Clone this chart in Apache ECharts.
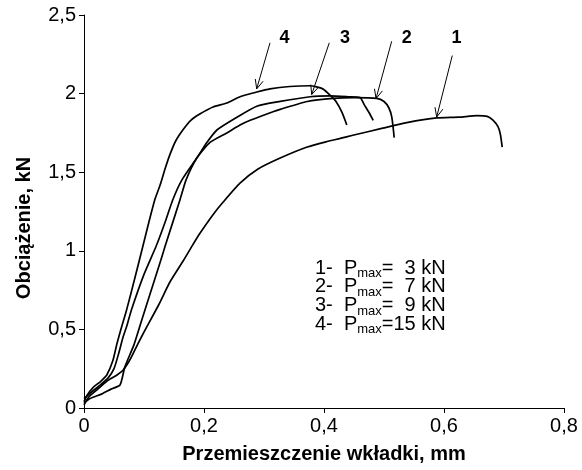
<!DOCTYPE html>
<html><head><meta charset="utf-8">
<script src="https://cdn.jsdelivr.net/npm/echarts@6/dist/echarts.min.js"></script>
<style>html,body{margin:0;padding:0;background:#fff}#c{width:582px;height:470px}</style>
</head><body><div id="c"></div>
<script>
// ---- data ----
const xTickLabels = ['0', '0,2', '0,4', '0,6', '0,8'];
const yTickLabels = ['0', '0,5', '1', '1,5', '2', '2,5'];

// curve 1: Pmax = 3 kN
const c1x = [0, 0.008, 0.02, 0.038, 0.055, 0.065, 0.077, 0.09, 0.101, 0.125, 0.143, 0.166, 0.18, 0.193, 0.215, 0.232, 0.26, 0.29, 0.327, 0.372, 0.405, 0.427, 0.448, 0.498, 0.538, 0.588, 0.625, 0.655, 0.672, 0.682, 0.69, 0.694, 0.697];
const c1y = [0.02, 0.07, 0.11, 0.17, 0.21, 0.24, 0.31, 0.41, 0.49, 0.66, 0.80, 0.94, 1.03, 1.11, 1.23, 1.31, 1.43, 1.52, 1.59, 1.66, 1.695, 1.715, 1.735, 1.78, 1.815, 1.845, 1.85, 1.86, 1.855, 1.83, 1.79, 1.74, 1.66];
// curve 2: Pmax = 7 kN
const c2x = [0, 0.01, 0.03, 0.045, 0.06, 0.068, 0.083, 0.093, 0.107, 0.128, 0.135, 0.16, 0.17, 0.188, 0.21, 0.238, 0.26, 0.277, 0.315, 0.327, 0.372, 0.415, 0.45, 0.488, 0.5, 0.508, 0.513, 0.517];
const c2y = [0.03, 0.06, 0.09, 0.12, 0.146, 0.26, 0.40, 0.52, 0.688, 0.94, 1.027, 1.325, 1.45, 1.59, 1.69, 1.75, 1.80, 1.83, 1.885, 1.90, 1.95, 1.97, 1.975, 1.97, 1.95, 1.91, 1.85, 1.72];
// curve 3: Pmax = 9 kN
const c3x = [0, 0.012, 0.025, 0.04, 0.05, 0.058, 0.065, 0.072, 0.079, 0.1, 0.12, 0.135, 0.148, 0.163, 0.188, 0.205, 0.222, 0.255, 0.288, 0.327, 0.377, 0.41, 0.44, 0.46, 0.467, 0.475, 0.482];
const c3y = [0.06, 0.10, 0.14, 0.19, 0.25, 0.35, 0.45, 0.53, 0.624, 0.85, 1.027, 1.18, 1.325, 1.45, 1.59, 1.69, 1.77, 1.85, 1.92, 1.95, 1.98, 1.985, 1.98, 1.975, 1.93, 1.88, 1.83];
// curve 4: Pmax = 15 kN
const c4x = [0, 0.005, 0.015, 0.028, 0.038, 0.048, 0.055, 0.063, 0.071, 0.085, 0.098, 0.108, 0.118, 0.127, 0.135, 0.143, 0.153, 0.165, 0.178, 0.193, 0.215, 0.238, 0.26, 0.288, 0.31, 0.343, 0.377, 0.398, 0.41, 0.42, 0.43, 0.438];
const c4y = [0.04, 0.08, 0.13, 0.17, 0.21, 0.30, 0.41, 0.52, 0.624, 0.83, 1.027, 1.18, 1.325, 1.42, 1.52, 1.61, 1.70, 1.77, 1.83, 1.87, 1.915, 1.94, 1.98, 2.01, 2.03, 2.045, 2.05, 2.03, 1.99, 1.95, 1.88, 1.80];

// annotation arrows (data coordinates): label, label point, arrow start, arrow tip
const arrowNames = ['1', '2', '3', '4'];
const arrowLabelAt = [[0.621, 2.355], [0.538, 2.355], [0.435, 2.355], [0.334, 2.355]];
const arrowFrom = [[0.6138, 2.242], [0.5128, 2.333], [0.4088, 2.323], [0.310, 2.323]];
const arrowTo = [[0.5878, 1.851], [0.4867, 1.968], [0.3795, 1.994], [0.2878, 2.030]];

// legend rows
const legendNums = ['1-', '2-', '3-', '4-'];
const legendVals = ['  3 kN', '  7 kN', '  9 kN', '15 kN'];

// ---- chart ----
const FONT = 'Liberation Sans, Arial, sans-serif';
const zip = (xs, ys) => xs.map((x, i) => [x, ys[i]]);
const chart = echarts.init(document.getElementById('c'), null, {renderer: 'canvas'});
const lineSeries = [[c1x, c1y], [c2x, c2y], [c3x, c3y], [c4x, c4y]].map((c, i) => ({
  type: 'line', name: 'c' + (i + 1), data: zip(c[0], c[1]), showSymbol: false,
  smooth: 0.2,
  lineStyle: {color: '#000', width: 1.7}, itemStyle: {color: '#000'}, z: 3
}));

chart.setOption({
  animation: false,
  backgroundColor: '#fff',
  grid: {left: 84, right: 18, top: 15, bottom: 62, containLabel: false},
  xAxis: {
    type: 'value', min: 0, max: 0.8, interval: 0.2,
    name: 'Przemieszczenie wkładki, mm', nameLocation: 'middle', nameGap: 36,
    nameTextStyle: {fontSize: 20, fontWeight: 'bold', color: '#000', fontFamily: FONT},
    axisLine: {lineStyle: {color: '#000', width: 1}},
    axisTick: {show: true, inside: false, length: 5, lineStyle: {color: '#000'}},
    axisLabel: {fontSize: 20, color: '#000', fontFamily: FONT, margin: 8,
      formatter: v => xTickLabels[Math.round(v / 0.2)]},
    splitLine: {show: false}
  },
  yAxis: {
    type: 'value', min: 0, max: 2.5, interval: 0.5,
    axisLine: {show: true, lineStyle: {color: '#000', width: 1}},
    axisTick: {show: true, inside: false, length: 5, lineStyle: {color: '#000'}},
    axisLabel: {fontSize: 20, color: '#000', fontFamily: FONT, margin: 8,
      formatter: v => yTickLabels[Math.round(v / 0.5)]},
    splitLine: {show: false}
  },
  series: lineSeries
});

const graphics = [];
// y axis title
graphics.push({type: 'text', x: 24, y: 228, rotation: Math.PI / 2,
  style: {text: 'Obciążenie, kN', fontSize: 20, fontWeight: 'bold', fontFamily: FONT, fill: '#000', align: 'center', verticalAlign: 'middle'}});
// arrows
arrowNames.forEach((n, i) => {
  const p0 = chart.convertToPixel({gridIndex: 0}, arrowFrom[i]);
  const p1 = chart.convertToPixel({gridIndex: 0}, arrowTo[i]);
  const pl = chart.convertToPixel({gridIndex: 0}, arrowLabelAt[i]);
  graphics.push({type: 'line', shape: {x1: p0[0], y1: p0[1], x2: p1[0], y2: p1[1]}, style: {stroke: '#000', lineWidth: 1}});
  const ang = Math.atan2(p1[1] - p0[1], p1[0] - p0[0]);
  const L = 10, a = 0.42;
  const h1 = [p1[0] - L * Math.cos(ang - a), p1[1] - L * Math.sin(ang - a)];
  const h2 = [p1[0] - L * Math.cos(ang + a), p1[1] - L * Math.sin(ang + a)];
  graphics.push({type: 'polyline', shape: {points: [h1, p1, h2]}, style: {stroke: '#000', lineWidth: 1, fill: null}});
  graphics.push({type: 'text', x: pl[0], y: pl[1],
    style: {text: n, fontSize: 18, fontWeight: 'bold', fontFamily: FONT, fill: '#000', align: 'center', verticalAlign: 'middle'}});
});
// legend block
legendNums.forEach((n, i) => {
  graphics.push({type: 'text', x: 315, y: 258 + i * 18.8,
    style: {
      text: '{n|' + n + '  P}{s|max}{n|=' + legendVals[i] + '}',
      rich: {
        n: {fontSize: 20, fontFamily: FONT, fill: '#000', lineHeight: 22, verticalAlign: 'top'},
        s: {fontSize: 13, fontFamily: FONT, fill: '#000', lineHeight: 14, verticalAlign: 'bottom'}
      },
      align: 'left', verticalAlign: 'top'
    }});
});
chart.setOption({graphic: graphics});
</script>
</body></html>
